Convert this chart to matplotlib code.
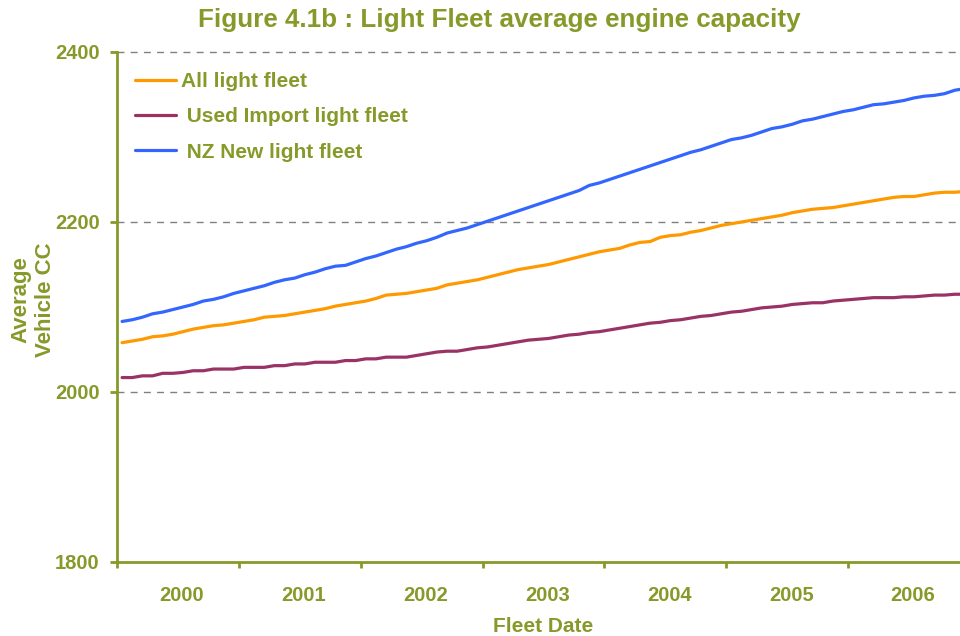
import numpy as np
import matplotlib
matplotlib.use("Agg")
import matplotlib.pyplot as plt
from matplotlib.transforms import ScaledTranslation

# ---- data (monthly, Jan 2000 .. Dec 2006) ----
years = ["2000", "2001", "2002", "2003", "2004", "2005", "2006"]

all_light = [2058, 2060, 2062, 2065, 2066, 2068, 2071, 2074, 2076, 2078, 2079, 2081,
             2083, 2085, 2088, 2089, 2090, 2092, 2094, 2096, 2098, 2101, 2103, 2105,
             2107, 2110, 2114, 2115, 2116, 2118, 2120, 2122, 2126, 2128, 2130, 2132,
             2135, 2138, 2141, 2144, 2146, 2148, 2150, 2153, 2156, 2159, 2162, 2165,
             2167, 2169, 2173, 2176, 2177, 2182, 2184, 2185, 2188, 2190, 2193, 2196,
             2198, 2200, 2202, 2204, 2206, 2208, 2211, 2213, 2215, 2216, 2217, 2219,
             2221, 2223, 2225, 2227, 2229, 2230, 2230, 2232, 2234, 2235, 2235, 2236]

used_import = [2017, 2017, 2019, 2019, 2022, 2022, 2023, 2025, 2025, 2027, 2027, 2027,
               2029, 2029, 2029, 2031, 2031, 2033, 2033, 2035, 2035, 2035, 2037, 2037,
               2039, 2039, 2041, 2041, 2041, 2043, 2045, 2047, 2048, 2048, 2050, 2052,
               2053, 2055, 2057, 2059, 2061, 2062, 2063, 2065, 2067, 2068, 2070, 2071,
               2073, 2075, 2077, 2079, 2081, 2082, 2084, 2085, 2087, 2089, 2090, 2092,
               2094, 2095, 2097, 2099, 2100, 2101, 2103, 2104, 2105, 2105, 2107, 2108,
               2109, 2110, 2111, 2111, 2111, 2112, 2112, 2113, 2114, 2114, 2115, 2115]

nz_new = [2083, 2085, 2088, 2092, 2094, 2097, 2100, 2103, 2107, 2109, 2112, 2116,
          2119, 2122, 2125, 2129, 2132, 2134, 2138, 2141, 2145, 2148, 2149, 2153,
          2157, 2160, 2164, 2168, 2171, 2175, 2178, 2182, 2187, 2190, 2193, 2197,
          2201, 2205, 2209, 2213, 2217, 2221, 2225, 2229, 2233, 2237, 2243, 2246,
          2250, 2254, 2258, 2262, 2266, 2270, 2274, 2278, 2282, 2285, 2289, 2293,
          2297, 2299, 2302, 2306, 2310, 2312, 2315, 2319, 2321, 2324, 2327, 2330,
          2332, 2335, 2338, 2339, 2341, 2343, 2346, 2348, 2349, 2351, 2355, 2357]

labels = ["All light fleet", " Used Import light fleet", " NZ New light fleet"]

# ---- style ----
OLIVE = "#869A2A"
FONT = ["Liberation Sans", "DejaVu Sans"]
plt.rcParams["font.family"] = FONT
plt.rcParams["font.weight"] = "bold"

W, H = 960, 636
fig = plt.figure(figsize=(W / 100, H / 100), dpi=100)
x0, x1, ytop, ybot = 117, 970, 52, 562
ax = fig.add_axes([x0 / W, 1 - ybot / H, (x1 - x0) / W, (ybot - ytop) / H])

n = len(nz_new)
x = np.arange(n) + 0.5
ax.plot(x, all_light, color="#FF9900", lw=2.3, label=labels[0], solid_capstyle="round")
ax.plot(x, used_import, color="#993366", lw=2.3, label=labels[1], solid_capstyle="round")
ax.plot(x, nz_new, color="#3366FF", lw=2.3, label=labels[2], solid_capstyle="round")

ax.set_xlim(0, n)
ax.set_ylim(1800, 2400)

# grid
for v in (2000, 2200, 2400):
    ax.axhline(v, color="#808080", lw=1.0, dashes=(5, 4.5), zorder=0, clip_on=False)

# spines
for s in ("top", "right"):
    ax.spines[s].set_visible(False)
for s in ("left", "bottom"):
    ax.spines[s].set_color(OLIVE)
    ax.spines[s].set_linewidth(2.0)

ax.set_yticks([1800, 2000, 2200, 2400])
ax.tick_params(axis="y", direction="out", length=5, width=2.0, color=OLIVE,
               labelcolor=OLIVE, labelsize=14.5, pad=7.5)
for t in ax.get_yticklabels():
    t.set_fontweight("bold")

ax.set_xticks(np.arange(0, n + 1, 12))
ax.set_xticks(np.arange(6, n, 12), minor=True)
ax.set_xticklabels([])
ax.set_xticklabels(years, minor=True)
ax.tick_params(axis="x", which="major", direction="out", length=4.5, width=2.0, color=OLIVE)
ax.tick_params(axis="x", which="minor", length=0, labelcolor=OLIVE, labelsize=14.5, pad=17.5)
shift = ScaledTranslation(4 / 100, 0, fig.dpi_scale_trans)
for t in ax.get_xticklabels(minor=True):
    t.set_fontweight("bold")
    t.set_transform(t.get_transform() + shift)

fig.text(499 / W, 1 - 20 / H, "Figure 4.1b : Light Fleet average engine capacity",
         ha="center", va="center", color=OLIVE, fontsize=18.7, fontweight="bold")
fig.text(543 / W, 1 - 627 / H, "Fleet Date", ha="center", va="center",
         color=OLIVE, fontsize=15, fontweight="bold")
fig.text(33 / W, 1 - 300 / H, "Average\nVehicle CC", ha="center", va="center",
         rotation=90, color=OLIVE, fontsize=16, fontweight="bold", linespacing=1.2)

leg = ax.legend(loc="upper left", bbox_to_anchor=(135 / W, 1 - 72 / H),
                bbox_transform=fig.transFigure, frameon=False, fontsize=15,
                borderpad=0, borderaxespad=0, handlelength=1.95, handletextpad=0.25,
                labelspacing=0.78)
for t in leg.get_texts():
    t.set_color(OLIVE)
    t.set_fontweight("bold")

fig.savefig("out.png", dpi=100)
